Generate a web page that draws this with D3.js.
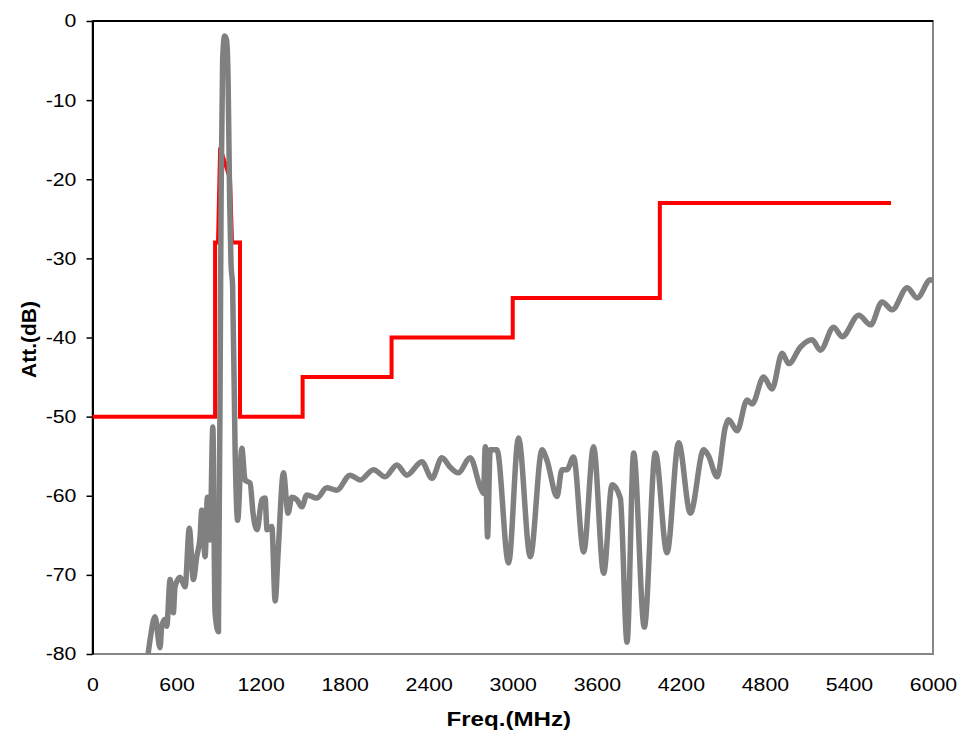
<!DOCTYPE html>
<html>
<head>
<meta charset="utf-8">
<script src="https://cdn.jsdelivr.net/npm/d3@7"></script>
<style>
  body { margin: 0; background: #fff; }
  text { font-family: "Liberation Sans", Arial, sans-serif; }
</style>
</head>
<body>
<div id="chart"></div>
<script>
// measured response (grey)
var respFreq = [390,411,446,482,494,518,530,554,577,589,625,661,691,720,744,768,780,804,820,839,859,875,899,918,929,943,957,968,979,989,1000,1018,1036,1066,1089,1125,1146,1175,1209,1232,1246,1280,1304,1325,1363,1396,1423,1459,1494,1530,1601,1673,1744,1839,1911,2006,2089,2173,2244,2351,2423,2494,2554,2611,2696,2768,2791,2804,2820,2839,2887,2970,3041,3125,3209,3244,3316,3351,3387,3434,3506,3577,3649,3709,3768,3816,3863,3939,4018,4101,4184,4268,4363,4396,4459,4518,4541,4601,4673,4709,4791,4851,4923,4970,5054,5137,5196,5291,5351,5470,5554,5637,5709,5816,5887,5982,6000];
var respAtt = [-81,-78.2,-75.3,-79.2,-76.5,-75.6,-76.5,-70.6,-74.8,-71.5,-70.3,-71.5,-64.1,-70.6,-67.7,-65.2,-61.8,-67.7,-60.2,-65.6,-51.3,-74.8,-77.2,-22.6,-4.9,-1.9,-2.4,-7.5,-22.6,-30.8,-33.4,-54.2,-63.1,-54,-58,-58.4,-62.2,-64.3,-60.5,-60.3,-64.3,-63.9,-73.3,-67.2,-57.1,-62.2,-60.2,-60.5,-61.4,-59.9,-60.3,-59,-59.3,-57.4,-58,-56.7,-57.6,-56.1,-57.4,-55.7,-57.8,-55.2,-56.4,-57.1,-55.2,-58.9,-59.7,-53.8,-65.2,-54.2,-54.2,-68.5,-52.7,-67.7,-54.2,-55.5,-60.1,-56.7,-56.7,-55.1,-67.1,-53.8,-69.8,-58.6,-60.3,-78.5,-54.6,-76.6,-54.6,-67.2,-53.3,-62.2,-54.2,-54.9,-57.6,-51.3,-50.4,-51.8,-47.9,-48.4,-45,-46.5,-42,-43.3,-41.2,-40.3,-41.6,-38.7,-39.9,-37.2,-38.4,-35.5,-36.5,-33.7,-35,-32.7,-32.8];

// spec mask (red)
var maskFreq = [0,875,875,896,911,982,996,1053,1053,1500,1500,2135,2135,3000,3000,4050,4050,5700];
var maskAtt = [-50,-50,-28,-28,-16,-20,-28,-28,-50,-50,-45,-45,-40,-40,-35,-35,-23,-23];

var xTicks = [0,600,1200,1800,2400,3000,3600,4200,4800,5400,6000];
var yTicks = [0,-10,-20,-30,-40,-50,-60,-70,-80];

var margin = {top: 21, right: 28, bottom: 84, left: 92.5},
    width = 961 - margin.left - margin.right,
    height = 738 - margin.top - margin.bottom;

var x = d3.scaleLinear().domain([0,6000]).range([0,width]);
var y = d3.scaleLinear().domain([-80,0]).range([height,0]);

var svg = d3.select("#chart")
    .append("svg")
    .attr("width", 961)
    .attr("height", 738)
    .append("g")
    .attr("transform", "translate(" + margin.left + "," + margin.top + ")");

svg.append("clipPath").attr("id","clip")
    .append("rect").attr("width", width).attr("height", height);

// plot border (grey right/bottom)
svg.append("rect")
    .attr("width", width).attr("height", height)
    .attr("fill", "none").attr("stroke", "#868686").attr("stroke-width", 2);

// x axis labels at bottom, no tick marks
var xg = svg.append("g")
    .attr("transform", "translate(0," + height + ")")
    .call(d3.axisBottom(x).tickValues(xTicks).tickSize(0).tickPadding(24).tickFormat(d => String(d)));
xg.select(".domain").remove();

// horizontal axis line crosses at 0 (top)
svg.append("line")
    .attr("x1", 0).attr("x2", width).attr("y1", 0).attr("y2", 0)
    .attr("stroke", "#000").attr("stroke-width", 2);

var yg = svg.append("g")
    .call(d3.axisLeft(y).tickValues(yTicks).tickSize(6).tickSizeOuter(0).tickPadding(8).tickFormat(d => String(d)));
yg.select(".domain").attr("stroke", "#000").attr("stroke-width", 2);
yg.selectAll(".tick line").attr("stroke", "#000").attr("stroke-width", 1.5);

svg.selectAll(".tick text")
    .attr("font-size", "18.5px")
    .attr("fill", "#000")
    .attr("transform", "scale(1.15,1)");

// lines
var maskLine = d3.line()
    .x((d, i) => x(maskFreq[i]))
    .y(d => y(d));

svg.append("path")
    .datum(maskAtt)
    .attr("clip-path", "url(#clip)")
    .attr("fill", "none")
    .attr("stroke", "#ff0000")
    .attr("stroke-width", 4)
    .attr("stroke-linejoin", "miter")
    .attr("d", maskLine);

var respLine = d3.line()
    .curve(d3.curveMonotoneX)
    .x((d, i) => x(respFreq[i]))
    .y(d => y(d));

svg.append("path")
    .datum(respAtt)
    .attr("clip-path", "url(#clip)")
    .attr("fill", "none")
    .attr("stroke", "#808080")
    .attr("stroke-width", 5.5)
    .attr("stroke-linejoin", "round")
    .attr("stroke-linecap", "round")
    .attr("d", respLine);

// axis titles
svg.append("text")
    .attr("transform", "translate(" + (width/2 - 4) + "," + (height + 72) + ") scale(1.15,1)")
    .attr("text-anchor", "middle")
    .style("font-size", "21px")
    .style("font-weight", "bold")
    .text("Freq.(MHz)");

svg.append("text")
    .attr("transform", "translate(" + (-57) + "," + (height/2 + 2) + ") rotate(-90)")
    .attr("text-anchor", "middle")
    .style("font-size", "21px")
    .style("font-weight", "bold")
    .text("Att.(dB)");
</script>
</body>
</html>
